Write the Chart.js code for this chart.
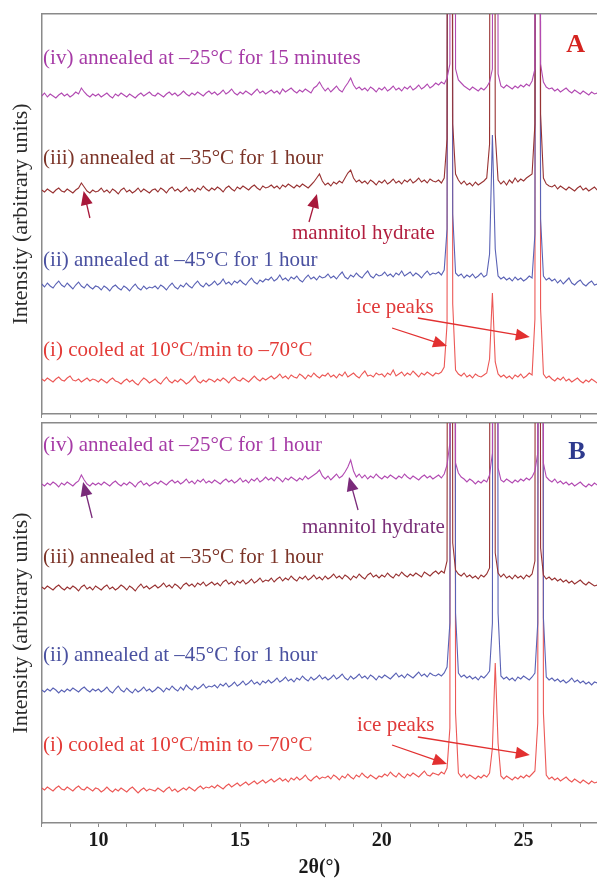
<!DOCTYPE html>
<html>
<head>
<meta charset="utf-8">
<script src="https://cdn.jsdelivr.net/npm/chart.js@4.4.0/dist/chart.umd.min.js"></script>
<style>
  html, body { margin: 0; padding: 0; background: #fff; overflow: hidden; }
  #wrap { position: relative; width: 597px; height: 880px; }
  canvas { position: absolute; left: 0; }
</style>
</head>
<body>
<div id="wrap">
  <canvas id="panelA" width="597" height="420" style="top:0"></canvas>
  <canvas id="panelB" width="597" height="462" style="top:418px"></canvas>
</div>
<script>
// Scan grid: 2θ of the first step and the step width (degrees)
const scanStart = 8.0;
const scanStep = 0.1;

// Axis range and labelled 2θ ticks
const xMin = 8;
const xMax = 27.59;
const labelledTicks = [10, 15, 20, 25];

// ---- Panel A: offset intensity traces (arbitrary units) ----
const aCooled = [
  35,33,36,34,32,35,37,34,33,36, 38,34,33,35,32,34,36,33,35,34,
  32,35,33,31,34,36,33,32,30,33, 35,32,34,31,29,33,36,34,31,33,
  35,32,30,34,37,33,31,34,32,35, 33,30,32,35,38,33,31,34,32,35,
  34,32,35,33,36,34,31,35,37,34, 33,36,34,32,35,38,35,33,36,34,
  36,38,35,37,40,36,38,35,39,37, 36,40,38,35,39,37,41,38,36,39,
  38,41,37,39,36,40,38,42,37,39, 41,38,36,40,43,38,39,37,41,39,
  40,37,41,39,44,38,40,42,38,41, 39,43,40,37,41,39,42,40,38,41,
  40,42,47,90,2800,110,44,40,38,41, 37,39,36,40,38,37,39,41,55,121,
  52,40,37,39,36,38,35,39,37,40, 36,38,41,39,95,2800,105,40,36,38,
  35,33,36,34,37,33,35,32,34,36, 33,31,34,32,35,33,31
];
const aAnneal45 = [
  130,127,131,128,126,130,133,129,127,131, 128,125,129,132,128,126,130,127,125,128,
  127,124,128,126,123,127,129,126,124,128, 126,123,127,130,126,124,128,125,127,126,
  128,125,129,127,124,128,131,127,125,129, 127,131,128,126,130,133,129,127,131,128,
  130,133,129,131,135,130,132,129,133,131, 134,131,129,133,136,132,130,134,132,135,
  134,137,133,135,139,134,136,133,137,135, 138,134,132,136,139,135,137,134,138,136,
  137,140,136,138,135,139,142,137,135,139, 137,141,138,136,140,143,138,136,140,138,
  139,142,138,140,137,141,139,143,138,140, 142,138,141,139,136,140,143,139,141,140,
  142,139,144,185,2800,200,141,138,140,136, 139,137,140,136,138,141,137,139,160,279,
  165,138,135,137,134,136,133,137,134,136, 133,135,138,136,180,2800,195,138,134,136,
  133,135,131,134,130,133,136,131,129,132, 134,130,128,131,133,129,130
];
const aAnneal35 = [
  224,222,225,223,221,224,226,223,222,225, 223,221,224,226,231,227,223,221,224,222,
  223,226,222,224,221,225,223,220,224,226, 222,224,221,223,226,222,225,223,221,224,
  225,222,226,224,221,225,227,223,225,222, 224,227,223,225,222,226,224,228,225,223,
  226,224,227,225,222,226,228,225,223,227, 225,228,226,224,227,229,226,224,228,226,
  227,229,226,228,225,229,227,230,228,226, 229,227,230,228,226,229,232,236,240,233,
  229,231,228,232,230,233,231,236,241,244, 236,232,234,231,233,230,234,232,229,233,
  231,234,230,232,235,231,233,230,234,232, 235,231,233,236,232,234,231,235,233,232,
  234,231,236,275,2800,290,240,234,230,233, 229,231,228,232,229,231,233,236,270,2600,
  280,234,230,233,229,234,231,236,232,235, 233,236,238,240,290,2800,300,236,230,228,
  227,229,225,228,226,224,227,225,223,226, 228,224,226,223,225,227,224
];
const aAnneal25 = [
  318,321,317,320,318,316,319,321,318,320, 317,319,322,320,326,322,319,317,320,318,
  320,317,319,321,318,316,320,318,321,319, 317,320,318,316,319,321,318,320,322,319,
  318,321,319,317,320,322,319,321,318,320, 323,320,318,321,319,322,320,318,321,323,
  320,322,319,321,324,320,322,325,321,319, 322,320,323,321,319,322,325,321,323,320,
  322,324,321,323,320,325,322,324,326,323, 321,324,322,325,323,321,326,328,332,327,
  323,326,322,325,328,324,322,327,331,336, 329,325,327,324,326,323,327,325,322,326,
  324,327,323,325,328,324,326,323,327,325, 328,324,326,329,325,327,330,326,328,331,
  329,332,330,336,350,2800,345,334,331,328, 326,324,327,325,323,326,324,327,332,345,
  2700,340,328,326,329,327,325,328,326,329, 327,330,328,333,345,2800,350,332,327,325,
  326,323,325,322,324,326,323,321,324,322, 320,323,321,319,322,320,321
];

// ---- Panel B: offset intensity traces (arbitrary units) ----
const bCooled = [
  35,33,36,34,32,35,37,34,33,36, 34,32,35,37,34,33,36,34,32,35,
  34,31,33,36,33,31,34,32,35,33, 31,34,36,33,30,33,35,32,34,33,
  32,35,33,31,34,36,32,34,31,33, 35,33,36,34,32,35,37,34,36,35,
  37,35,38,36,34,37,39,36,38,40, 37,39,41,38,40,42,39,41,43,40,
  42,44,41,43,45,42,44,41,45,43, 46,43,45,48,44,42,45,47,44,46,
  45,47,44,48,46,43,47,45,49,46, 44,48,46,50,47,45,48,46,44,47,
  46,49,47,51,48,46,50,47,45,49, 47,50,48,46,49,52,48,47,50,49,
  48,51,49,55,95,2800,110,50,46,49, 45,48,46,44,47,45,48,46,50,75,
  160,80,47,44,47,45,43,46,44,47, 45,48,46,49,52,100,2800,110,48,44,
  46,43,45,42,44,46,43,41,44,42, 40,43,41,39,42,40,41
];
const bAnneal45 = [
  133,131,134,132,135,133,130,133,131,134, 132,135,133,131,134,136,133,131,134,132,
  134,131,133,136,132,130,134,137,133,131, 135,132,130,134,131,133,136,132,134,131,
  133,136,134,131,135,133,137,134,132,136, 133,138,135,133,137,134,136,139,135,137,
  136,138,135,139,137,140,136,138,141,137, 139,142,138,140,143,139,141,138,142,140,
  143,140,142,145,141,143,146,142,144,141, 145,143,147,144,142,146,143,145,148,144,
  146,143,145,148,144,146,149,145,143,147, 144,146,149,145,147,144,148,146,143,147,
  145,148,146,144,147,150,146,148,145,149, 147,145,148,151,147,149,146,150,148,147,
  149,147,150,156,200,2800,210,150,146,148, 145,147,144,146,143,147,145,148,152,200,
  2700,210,147,144,146,143,145,142,146,144, 147,145,143,146,150,200,2800,205,146,143,
  145,142,144,141,143,140,142,145,141,143, 140,142,139,141,138,141,140
];
const bAnneal35 = [
  236,234,237,235,233,236,238,235,233,236, 234,237,235,232,236,238,234,236,233,237,
  235,233,236,238,234,236,233,235,238,236, 233,237,235,232,236,239,235,237,234,236,
  238,235,237,240,236,238,235,239,237,234, 238,240,237,239,236,240,238,241,237,239,
  241,238,240,237,241,243,239,241,238,242, 240,243,239,241,244,240,242,245,241,243,
  242,245,241,244,246,242,245,243,247,244, 242,246,244,247,243,245,248,244,246,243,
  247,244,246,249,245,247,244,248,246,243, 247,245,249,246,244,248,250,246,248,245,
  248,246,250,247,245,249,247,251,248,246, 249,247,250,248,246,251,249,247,250,252,
  249,252,250,262,2800,280,253,249,247,250, 246,248,245,247,244,248,246,249,255,2700,
  270,250,246,249,245,247,244,248,245,247, 244,248,246,249,262,2800,275,248,244,246,
  243,245,242,244,241,243,240,242,239,241, 243,240,238,241,239,237,238
];
const bAnneal25 = [
  339,337,340,338,341,339,336,340,338,341, 339,337,340,342,348,343,339,337,340,338,
  340,338,341,339,337,340,342,339,337,340, 338,341,339,336,340,342,338,340,337,339,
  341,339,342,340,338,341,343,340,342,339, 341,344,340,342,339,343,341,344,340,342,
  340,343,341,339,342,344,341,343,340,342, 345,341,343,340,344,342,345,341,343,346,
  343,345,342,346,344,341,345,343,346,344, 342,345,343,347,344,346,348,350,353,347,
  344,347,343,346,349,345,347,351,356,363, 352,346,349,345,348,344,347,345,349,346,
  344,347,345,348,346,344,347,345,349,346, 344,347,345,343,346,348,345,347,344,346,
  348,345,349,358,380,2800,360,350,346,344, 341,344,342,339,342,340,343,341,348,370,
  2700,355,343,341,344,342,340,343,341,344, 342,345,343,346,352,370,2800,360,346,343,
  341,344,340,342,339,341,338,340,337,339, 341,338,336,339,337,340,338
];

// Trace colours
const traceColor = { iv: '#b24ab2', iii: '#983232', ii: '#5a62b5', i: '#ec5856' };

const serif = '"Liberation Serif", "Times New Roman", serif';
const labelFont = '21px ' + serif;

function toPoints(values) {
  return values.map((v, i) => ({ x: Math.round((scanStart + i * scanStep) * 100) / 100, y: v }));
}

function traceSet(values, color) {
  return {
    data: toPoints(values),
    borderColor: color,
    borderWidth: 1.1,
    pointRadius: 0,
    tension: 0,
    fill: false
  };
}

function drawArrow(ctx, x1, y1, x2, y2, color) {
  const ang = Math.atan2(y2 - y1, x2 - x1);
  const L = 14, W = 6;
  const c = Math.cos(ang), s = Math.sin(ang);
  ctx.strokeStyle = color;
  ctx.fillStyle = color;
  ctx.lineWidth = 1.3;
  ctx.beginPath();
  ctx.moveTo(x1, y1);
  ctx.lineTo(x2 - L * 0.7 * c, y2 - L * 0.7 * s);
  ctx.stroke();
  ctx.beginPath();
  ctx.moveTo(x2, y2);
  ctx.lineTo(x2 - L * c + W * s, y2 - L * s - W * c);
  ctx.lineTo(x2 - L * c - W * s, y2 - L * s + W * c);
  ctx.closePath();
  ctx.fill();
}

// Draws the in-plot captions and arrows, placed in data coordinates
const panelNotes = {
  id: 'panelNotes',
  afterDraw(chart, args, opts) {
    const { ctx } = chart;
    const xs = chart.scales.x, ys = chart.scales.y;
    ctx.save();
    (opts.arrows || []).forEach(a => {
      drawArrow(ctx, xs.getPixelForValue(a.from[0]), ys.getPixelForValue(a.from[1]),
                xs.getPixelForValue(a.to[0]), ys.getPixelForValue(a.to[1]), a.color);
    });
    (opts.labels || []).forEach(l => {
      ctx.font = l.font || labelFont;
      ctx.fillStyle = l.color;
      ctx.textAlign = l.align || 'left';
      ctx.textBaseline = 'middle';
      ctx.fillText(l.text, xs.getPixelForValue(l.x), ys.getPixelForValue(l.y));
    });
    ctx.restore();
  }
};

function makePanel(canvasId, series, notes, withLabels, padding) {
  const axisColor = '#8a8a8a';
  const xAxis = {
    type: 'linear',
    min: xMin,
    max: xMax,
    position: 'bottom',
    border: { display: true, color: axisColor, width: 1.5 },
    grid: { display: true, drawOnChartArea: false, drawTicks: true, tickLength: 4, color: axisColor },
    ticks: {
      display: withLabels,
      stepSize: 1,
      includeBounds: false,
      autoSkip: false,
      maxRotation: 0,
      padding: 2,
      color: '#1a1a1a',
      font: { family: serif, size: 20, weight: 'bold' },
      callback: v => labelledTicks.includes(v) ? String(v) : ''
    },
    title: {
      display: withLabels,
      text: '2θ(°)',
      color: '#1a1a1a',
      font: { family: serif, size: 20, weight: 'bold' },
      padding: { top: 1, bottom: 0 }
    }
  };
  return new Chart(document.getElementById(canvasId), {
    type: 'line',
    data: { datasets: series },
    options: {
      responsive: false,
      animation: false,
      parsing: true,
      layout: { padding: padding },
      plugins: { legend: { display: false }, tooltip: { enabled: false }, panelNotes: notes },
      scales: {
        x: xAxis,
        xTop: {
          type: 'linear', min: xMin, max: xMax, position: 'top',
          border: { display: true, color: axisColor, width: 1.5 },
          grid: { display: false, drawTicks: false },
          ticks: { display: false }
        },
        y: {
          type: 'linear', min: 0, max: 400,
          border: { display: true, color: axisColor, width: 1.5 },
          grid: { display: false, drawTicks: false },
          ticks: { display: false },
          title: {
            display: true,
            text: 'Intensity (arbitrary units)',
            color: '#2a2a2a',
            font: { family: serif, size: 22 },
            padding: { top: 8.5, bottom: 6.8 }
          }
        }
      }
    },
    plugins: [panelNotes]
  });
}

const lblColor = { iv: '#a63ba6', iii: '#7c3428', ii: '#4a51a0', i: '#e33b37' };

makePanel('panelA', [
  traceSet(aAnneal25, traceColor.iv),
  traceSet(aAnneal35, traceColor.iii),
  traceSet(aAnneal45, traceColor.ii),
  traceSet(aCooled, traceColor.i)
], {
  labels: [
    { text: '(iv) annealed at \u201325\u00b0C for 15 minutes', x: 8.05, y: 356, color: lblColor.iv },
    { text: '(iii) annealed at \u201335\u00b0C for 1 hour', x: 8.05, y: 256, color: lblColor.iii },
    { text: 'mannitol hydrate', x: 16.83, y: 181, color: '#b21f40' },
    { text: '(ii) annealed at \u201345\u00b0C for 1 hour', x: 8.05, y: 154, color: lblColor.ii },
    { text: 'ice peaks', x: 19.09, y: 107, color: '#e03a3a' },
    { text: '(i) cooled at 10\u00b0C/min to \u201370\u00b0C', x: 8.05, y: 64, color: lblColor.i },
    { text: 'A', x: 26.84, y: 369, color: '#d52420', align: 'center', font: 'bold 26px ' + serif }
  ],
  arrows: [
    { from: [9.70, 196], to: [9.48, 223], color: '#a8183a' },
    { from: [17.43, 192], to: [17.71, 220], color: '#a8183a' },
    { from: [20.36, 86], to: [22.30, 68], color: '#e23030' },
    { from: [21.27, 96], to: [25.22, 77], color: '#e23030' }
  ]
}, false, { left: 0, top: 14, right: 0, bottom: 2 });

makePanel('panelB', [
  traceSet(bAnneal25, traceColor.iv),
  traceSet(bAnneal35, traceColor.iii),
  traceSet(bAnneal45, traceColor.ii),
  traceSet(bCooled, traceColor.i)
], {
  labels: [
    { text: '(iv) annealed at \u201325\u00b0C for 1 hour', x: 8.05, y: 378, color: lblColor.iv },
    { text: 'mannitol hydrate', x: 17.18, y: 296, color: '#7a2f78' },
    { text: '(iii) annealed at \u201335\u00b0C for 1 hour', x: 8.05, y: 266, color: lblColor.iii },
    { text: '(ii) annealed at \u201345\u00b0C for 1 hour', x: 8.05, y: 168, color: lblColor.ii },
    { text: 'ice peaks', x: 19.12, y: 98, color: '#e03a3a' },
    { text: '(i) cooled at 10\u00b0C/min to \u201370\u00b0C', x: 8.05, y: 78, color: lblColor.i },
    { text: 'B', x: 26.88, y: 371, color: '#2e3a8e', align: 'center', font: 'bold 26px ' + serif }
  ],
  arrows: [
    { from: [9.78, 305], to: [9.46, 341], color: '#7a2a7a' },
    { from: [19.16, 313], to: [18.84, 346], color: '#7a2a7a' },
    { from: [20.36, 78], to: [22.30, 59], color: '#e23030' },
    { from: [21.27, 86], to: [25.22, 68], color: '#e23030' }
  ]
}, true, { left: 0, top: 5, right: 0, bottom: 0 });
</script>
</body>
</html>
